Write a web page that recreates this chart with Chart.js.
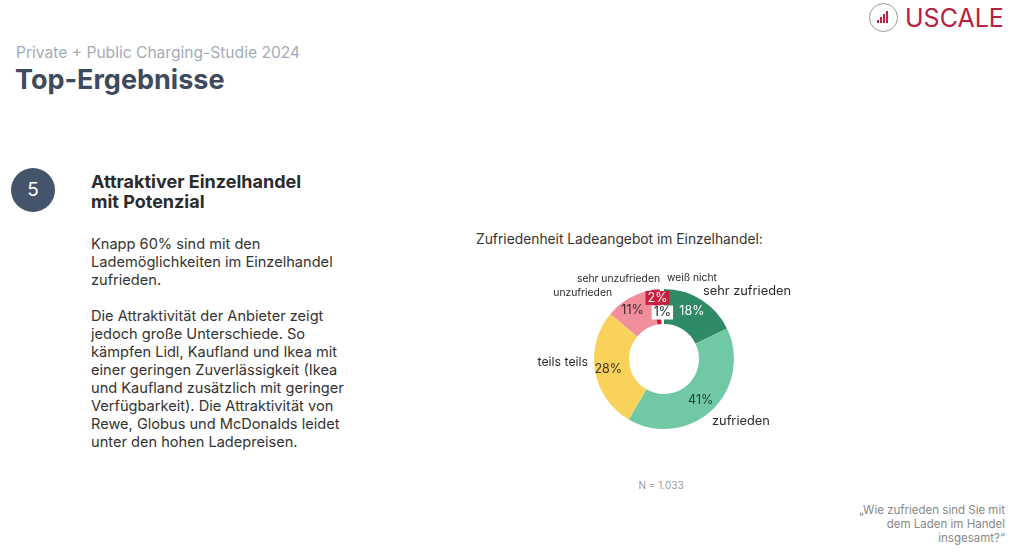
<!DOCTYPE html>
<html lang="de">
<head>
<meta charset="utf-8">
<script src="https://cdn.jsdelivr.net/npm/chart.js@4"></script>
<style>
  html, body { margin: 0; padding: 0; background: #fff; }
  body { width: 1024px; height: 557px; position: relative; overflow: hidden; font-family: Inter, "Noto Sans", sans-serif; }
  .abs { position: absolute; white-space: nowrap; }
  #sub { left: 16px; top: 43px; font-size: 15.6px; color: #a3abb8; }
  #title { left: 15px; top: 63px; font-size: 27px; font-weight: 700; color: #3e4a5d; }
  #num { left: 11px; top: 168px; width: 44px; height: 44px; border-radius: 50%; background: #44546a; color: #fff; font-size: 19px; line-height: 44px; text-align: center; }
  #head { left: 91px; top: 172px; font-size: 18px; font-weight: 700; color: #2b2b2b; line-height: 20px; }
  #body { left: 91px; top: 235px; font-size: 14.6px; color: #333; line-height: 18px; }
  #ctitle { left: 476px; top: 231px; font-size: 13.8px; color: #333; }
  #n { left: 620px; top: 479px; width: 82px; text-align: center; font-size: 10px; color: #9a9a9a; }
  #quote { right: 19px; top: 503px; text-align: right; font-size: 11.5px; color: #888; line-height: 14px; }
  #logo { left: 868px; top: 2px; }
  #logo .ring { position: absolute; left: 1px; top: 1px; width: 27px; height: 27px; border: 1.5px solid #999; border-radius: 50%; }
  #logo .bars { position: absolute; left: 9px; top: 9px; width: 13px; height: 12px; }
  #logo .bars i { position: absolute; bottom: 0; width: 2px; background: #c0203e; }
  #logo .txt { position: absolute; left: 37px; top: 1px; font-size: 25px; color: #b5213f; letter-spacing: 0; font-weight: 400; }
  #wrap { position: absolute; left: 504px; top: 259px; width: 320px; height: 200px; }
</style>
</head>
<body>
<div class="abs" id="sub">Private + Public Charging-Studie 2024</div>
<div class="abs" id="title">Top-Ergebnisse</div>
<div class="abs" id="num">5</div>
<div class="abs" id="head">Attraktiver Einzelhandel<br>mit Potenzial</div>
<div class="abs" id="body">Knapp 60% sind mit den<br>Lademöglichkeiten im Einzelhandel<br>zufrieden.<br><br>Die Attraktivität der Anbieter zeigt<br>jedoch große Unterschiede. So<br>kämpfen Lidl, Kaufland und Ikea mit<br>einer geringen Zuverlässigkeit (Ikea<br>und Kaufland zusätzlich mit geringer<br>Verfügbarkeit). Die Attraktivität von<br>Rewe, Globus und McDonalds leidet<br>unter den hohen Ladepreisen.</div>
<div class="abs" id="ctitle">Zufriedenheit Ladeangebot im Einzelhandel:</div>
<div id="wrap"><canvas id="chart"></canvas></div>
<div class="abs" id="n">N = 1.033</div>
<div class="abs" id="quote">„Wie zufrieden sind Sie mit<br>dem Laden im Handel<br>insgesamt?“</div>
<div class="abs" id="logo">
  <div class="ring"></div>
  <div class="bars"><i style="left:0;height:3px"></i><i style="left:3px;height:6px"></i><i style="left:6px;height:9px"></i><i style="left:9px;height:12px"></i></div>
  <div class="txt">USCALE</div>
</div>
<script>
// data
const categories = ['sehr zufrieden', 'zufrieden', 'teils teils', 'unzufrieden', 'sehr unzufrieden', 'weiß nicht'];
const values = [18, 41, 28, 11, 2, 1];

// styles
const colors = ['#2f8a66', '#70c8a4', '#f8d25b', '#f08e9b', '#c81f3f', '#ffffff'];
const pctColors = ['#ffffff', '#1f3d30', '#3a3320', '#3a2a2c', '#ffffff', '#222222'];
const pctBoxes = [null, null, null, null, '#c81f3f', '#ffffff'];
const pctShift = [[0, -3], [1, 3], [-4, 1], [-5, -3], [0, -9], [0, 6]];
// outer labels: offset from chart centre, alignment, font size
const outerLabels = [
    { dx: 39, dy: -68, align: 'left', size: 12.8 },
    { dx: 48, dy: 62, align: 'left', size: 12.8 },
    { dx: -76, dy: 3, align: 'right', size: 12.3 },
    { dx: -52, dy: -66, align: 'right', size: 10.3 },
    { dx: -4, dy: -80, align: 'right', size: 10.3 },
    { dx: 3, dy: -81, align: 'left', size: 10.3 }
];

const labelPlugin = {
    id: 'labels',
    afterDatasetsDraw(chart) {
        const ctx = chart.ctx;
        const arcs = chart.getDatasetMeta(0).data;
        ctx.save();
        ctx.textBaseline = 'middle';
        arcs.forEach((arc, i) => {
            // percent inside ring
            const pos = arc.tooltipPosition();
            const x = pos.x + pctShift[i][0];
            const y = pos.y + pctShift[i][1];
            const txt = values[i] + '%';
            ctx.font = '12.5px Inter, sans-serif';
            ctx.textAlign = 'center';
            if (pctBoxes[i]) {
                const w = ctx.measureText(txt).width + 4;
                ctx.fillStyle = pctBoxes[i];
                ctx.fillRect(x - w / 2, y - 7, w, 14);
            }
            ctx.fillStyle = pctColors[i];
            ctx.fillText(txt, x, y);

            // category label outside
            const o = outerLabels[i];
            ctx.font = o.size + 'px Inter, sans-serif';
            ctx.textAlign = o.align;
            ctx.fillStyle = '#2b2b2b';
            ctx.fillText(categories[i], arc.x + o.dx, arc.y + o.dy);
        });
        ctx.restore();
    }
};

new Chart(document.getElementById('chart'), {
    type: 'doughnut',
    data: {
        labels: categories,
        datasets: [{
            data: values,
            backgroundColor: colors,
            borderWidth: 0,
            hoverOffset: 0
        }]
    },
    options: {
        responsive: true,
        maintainAspectRatio: false,
        animation: false,
        cutout: '50%',
        layout: { padding: { top: 30, bottom: 30 } },
        plugins: {
            legend: { display: false },
            tooltip: { enabled: false }
        }
    },
    plugins: [labelPlugin]
});
</script>
</body>
</html>
